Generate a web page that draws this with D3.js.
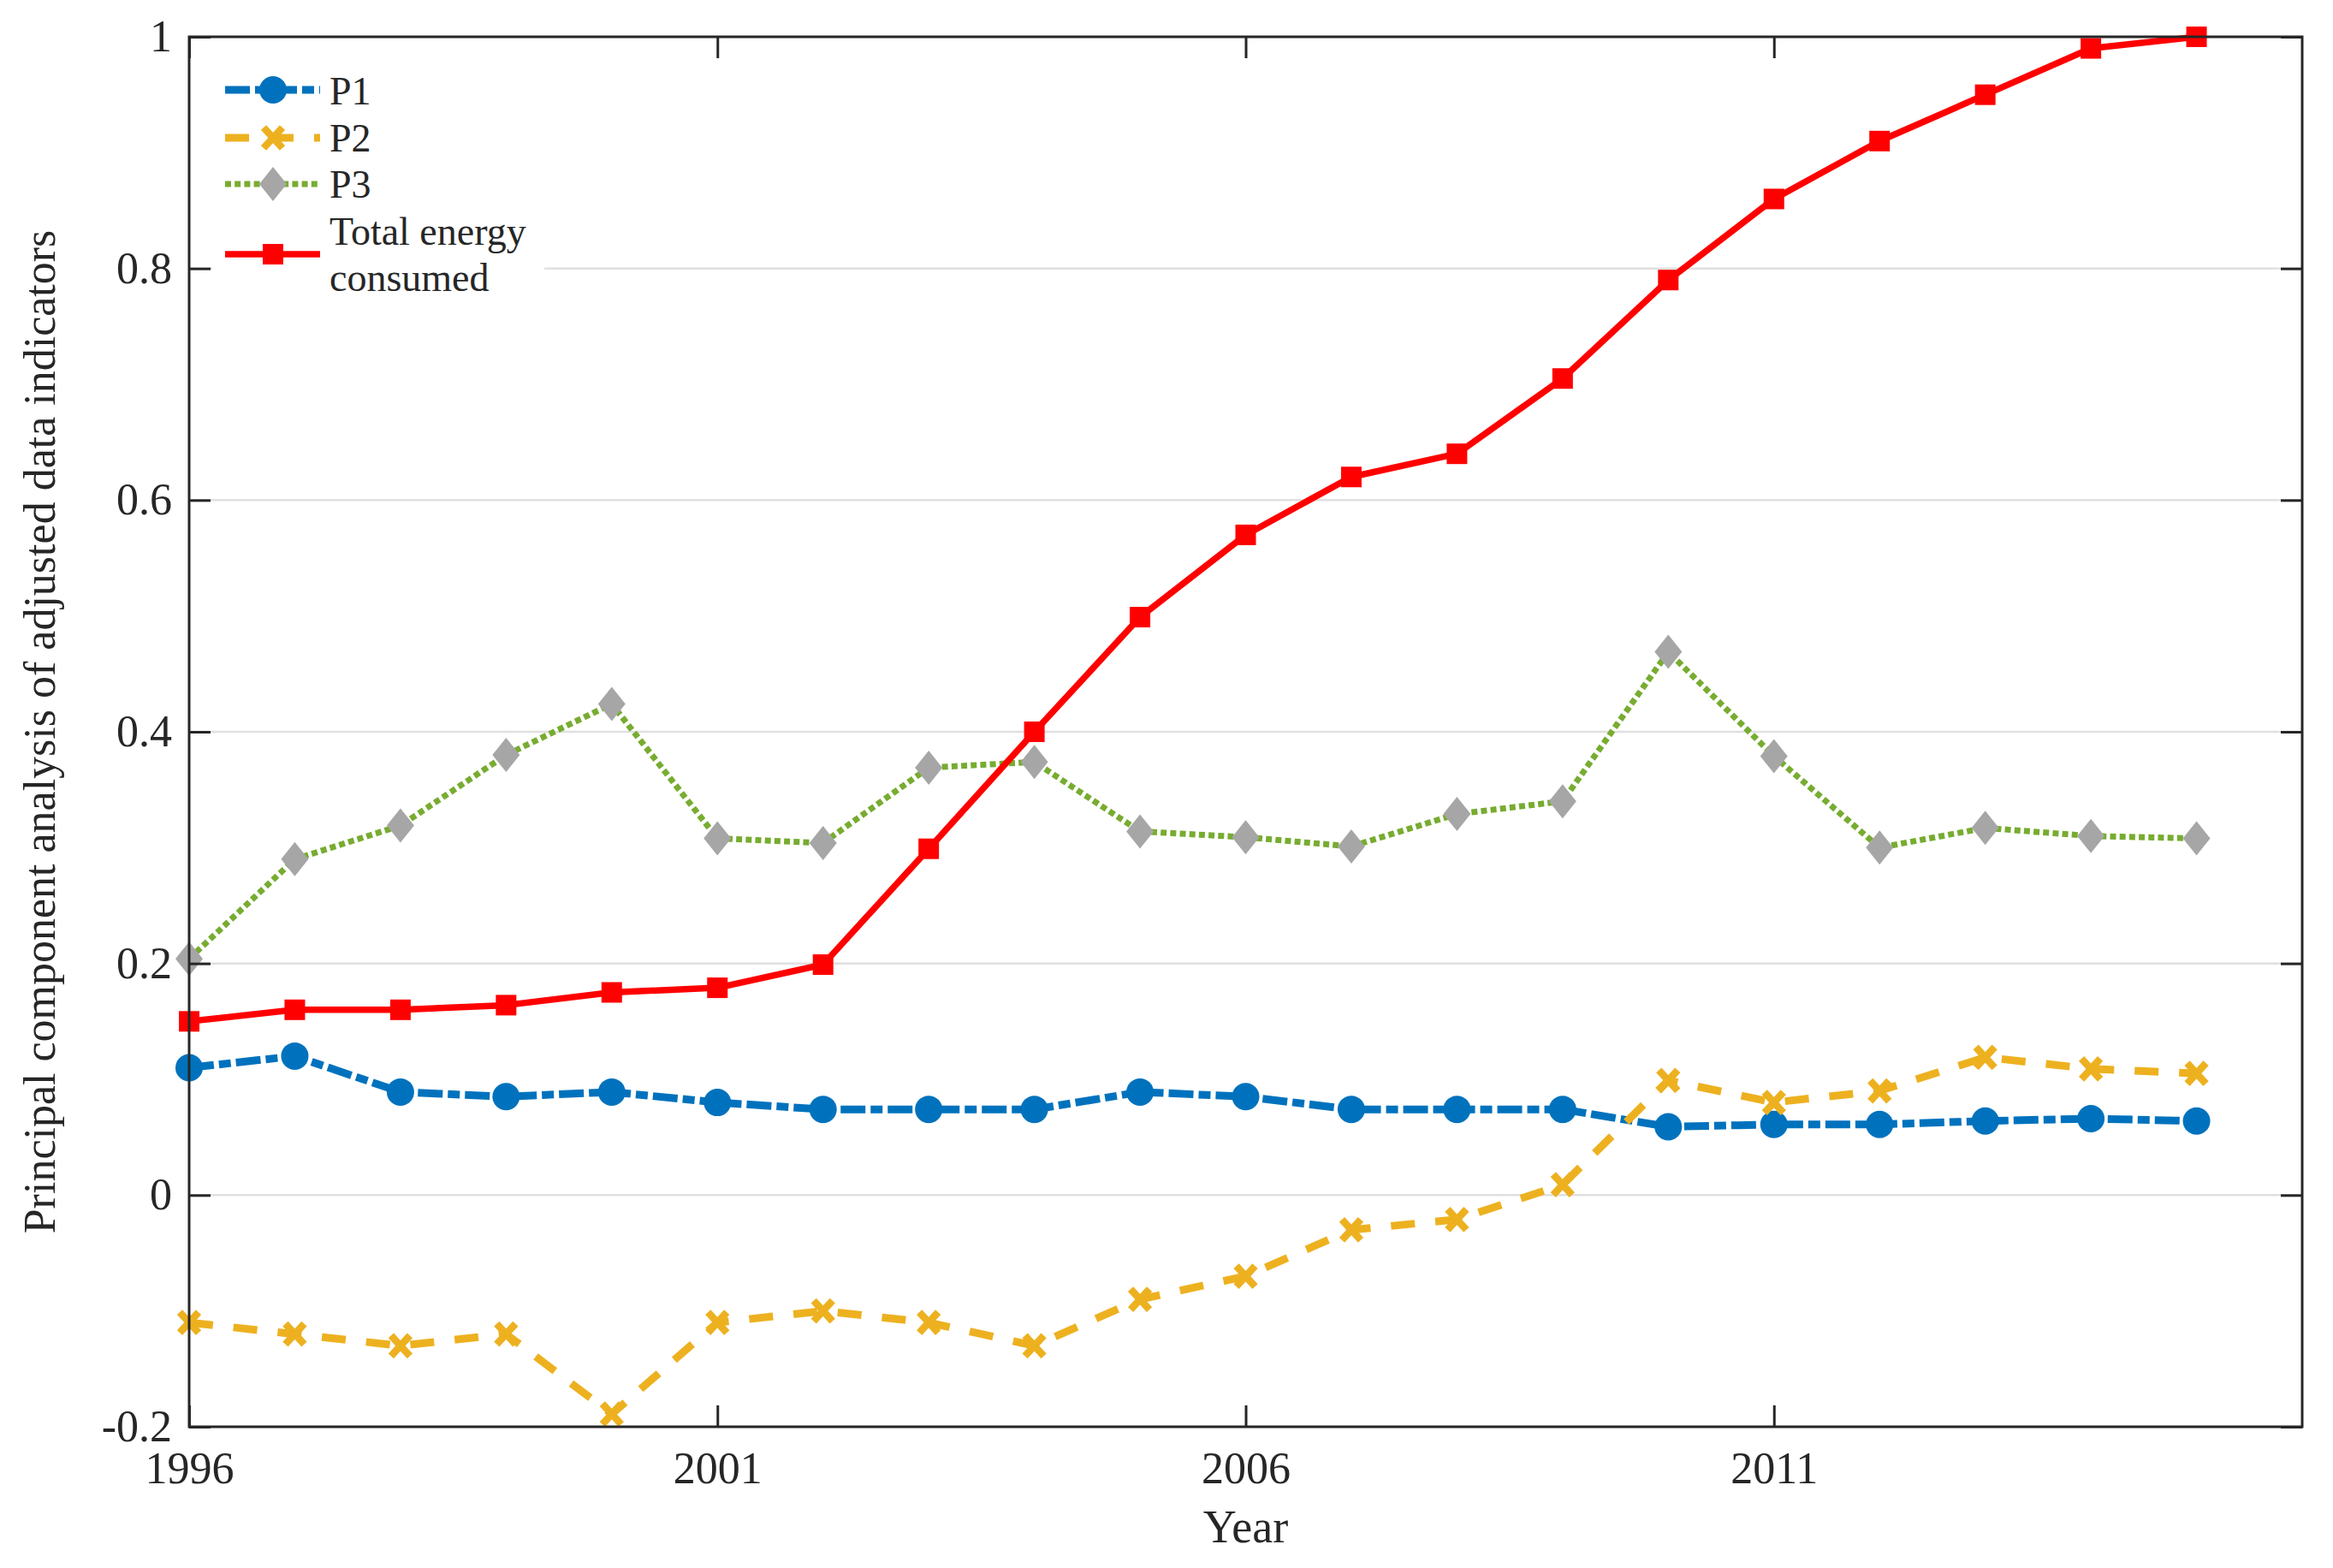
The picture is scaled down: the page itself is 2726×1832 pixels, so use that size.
<!DOCTYPE html>
<html>
<head>
<meta charset="utf-8">
<script src="https://cdn.jsdelivr.net/npm/d3@7"></script>
<style>
  body { margin: 0; background: #fff; }
  text { font-family: "Liberation Serif", "Times New Roman", serif; fill: #262626; }
</style>
</head>
<body>
<svg id="chart" width="2726" height="1832"></svg>
<script>
// values
var years = [1996, 1997, 1998, 1999, 2000, 2001, 2002, 2003, 2004, 2005,
             2006, 2007, 2008, 2009, 2010, 2011, 2012, 2013, 2014, 2015];
var p1 = [0.110, 0.120, 0.089, 0.085, 0.089, 0.080, 0.074, 0.074, 0.074, 0.089,
          0.085, 0.074, 0.074, 0.074, 0.059, 0.061, 0.061, 0.064, 0.066, 0.064];
var p2 = [-0.110, -0.120, -0.130, -0.120, -0.189, -0.110, -0.100, -0.110, -0.130, -0.090,
          -0.070, -0.030, -0.021, 0.009, 0.099, 0.080, 0.090, 0.119, 0.109, 0.105];
var p3 = [0.204, 0.290, 0.319, 0.380, 0.424, 0.308, 0.304, 0.369, 0.374, 0.314,
          0.309, 0.301, 0.329, 0.340, 0.469, 0.379, 0.300, 0.317, 0.310, 0.308];
var totalEnergy = [0.150, 0.160, 0.160, 0.164, 0.175, 0.179, 0.199, 0.299, 0.400, 0.499,
                   0.570, 0.620, 0.640, 0.705, 0.790, 0.860, 0.910, 0.950, 0.990, 1.000];
var xTicks = [1996, 2001, 2006, 2011];
var yTicks = [-0.2, 0, 0.2, 0.4, 0.6, 0.8, 1];
var legendNames = ["P1", "P2", "P3", ["Total energy", "consumed"]];

// plot box (note: "top" is taken by window.top, so use other names)
var boxL = 221, boxR = 2690, boxT = 43, boxB = 1667;
var svg = d3.select("#chart");

var x = d3.scaleLinear().domain([1996, 2016]).range([boxL, boxR]);
var y = d3.scaleLinear().domain([-0.2, 1]).range([boxB, boxT]);

function yFmt(d) { return d === 0 ? "0" : String(+d.toFixed(1)); }

// grid lines (horizontal only)
svg.append("g").selectAll("line")
  .data(yTicks)
  .enter().append("line")
  .attr("x1", boxL).attr("x2", boxR)
  .attr("y1", function (d) { return y(d); })
  .attr("y2", function (d) { return y(d); })
  .attr("stroke", "#e0e0e0")
  .attr("stroke-width", 2.5);

// series definitions
var series = [
  { vals: p1, color: "#0072BD", width: 9, dash: "29,6,14,6", marker: "circle" },
  { vals: p2, color: "#EDB120", width: 9, dash: "28,24", marker: "x" },
  { vals: p3, color: "#77AC30", width: 7, dash: "7,4.2", marker: "diamond", fill: "#A6A6A6" },
  { vals: totalEnergy, color: "#FF0000", width: 7.5, dash: null, marker: "square" }
];

function drawMarker(g, s, px, py) {
  if (s.marker === "circle") {
    g.append("circle").attr("cx", px).attr("cy", py).attr("r", 16).attr("fill", s.color);
  } else if (s.marker === "x") {
    g.append("path")
      .attr("d", "M-11,-12L11,12M-11,12L11,-12")
      .attr("transform", "translate(" + px + "," + py + ")")
      .attr("stroke", s.color).attr("stroke-width", 8.5).attr("fill", "none");
  } else if (s.marker === "diamond") {
    g.append("path")
      .attr("d", "M0,-20L16,0L0,20L-16,0Z")
      .attr("transform", "translate(" + px + "," + py + ")")
      .attr("fill", s.fill);
  } else {
    g.append("rect").attr("x", px - 12).attr("y", py - 12)
      .attr("width", 24).attr("height", 24).attr("fill", s.color);
  }
}

var line = d3.line()
  .x(function (d, i) { return x(years[i]); })
  .y(function (d) { return y(d); });

series.forEach(function (s) {
  var g = svg.append("g");
  g.append("path")
    .attr("d", line(s.vals))
    .attr("fill", "none")
    .attr("stroke", s.color)
    .attr("stroke-width", s.width)
    .attr("stroke-dasharray", s.dash)
    .attr("stroke-linejoin", "round");
  s.vals.forEach(function (v, i) { drawMarker(g, s, x(years[i]), y(v)); });
});

// axes, ticks pointing inward on all four sides
var xAxis = d3.axisBottom(x).tickValues(xTicks).tickFormat(d3.format("d"))
  .tickSizeInner(-25).tickSizeOuter(0).tickPadding(29);
var yAxis = d3.axisLeft(y).tickValues(yTicks).tickFormat(yFmt)
  .tickSizeInner(-25).tickSizeOuter(0).tickPadding(20);

var gx = svg.append("g").attr("transform", "translate(0," + boxB + ")").call(xAxis);
var gy = svg.append("g").attr("transform", "translate(" + boxL + ",0)").call(yAxis);
svg.append("g").attr("transform", "translate(0," + boxT + ")")
  .call(d3.axisTop(x).tickValues(xTicks).tickFormat("").tickSizeInner(-25).tickSizeOuter(0));
svg.append("g").attr("transform", "translate(" + boxR + ",0)")
  .call(d3.axisRight(y).tickValues(yTicks).tickFormat("").tickSizeInner(-25).tickSizeOuter(0));

svg.selectAll(".domain").remove();
svg.selectAll(".tick line").attr("stroke", "#262626").attr("stroke-width", 3);
gx.selectAll("text").attr("font-size", 52).attr("fill", "#262626")
  .attr("font-family", "Liberation Serif");
gy.selectAll("text").attr("font-size", 52).attr("fill", "#262626")
  .attr("font-family", "Liberation Serif");

// frame
svg.append("rect")
  .attr("x", boxL).attr("y", boxT)
  .attr("width", boxR - boxL).attr("height", boxB - boxT)
  .attr("fill", "none").attr("stroke", "#262626").attr("stroke-width", 3);

// axis labels
svg.append("text")
  .attr("x", (boxL + boxR) / 2).attr("y", 1802)
  .attr("text-anchor", "middle").attr("font-size", 54)
  .text("Year");
svg.append("text")
  .attr("transform", "translate(64," + ((boxT + boxB) / 2) + ") rotate(-90)")
  .attr("text-anchor", "middle").attr("font-size", 52)
  .text("Principal component analysis of adjusted data indicators");

// legend
var leg = svg.append("g");
leg.append("rect").attr("x", 248).attr("y", 64).attr("width", 388).attr("height", 296)
  .attr("fill", "#fff");
var legY = [105, 161, 215, 297];
var legTextY = [[122], [177], [231], [286, 340]];
series.forEach(function (s, i) {
  leg.append("line")
    .attr("x1", 263).attr("x2", 374)
    .attr("y1", legY[i]).attr("y2", legY[i])
    .attr("stroke", s.color).attr("stroke-width", s.width)
    .attr("stroke-dasharray", s.dash);
  drawMarker(leg, s, 319, legY[i]);
  var names = [].concat(legendNames[i]);
  names.forEach(function (n, j) {
    leg.append("text")
      .attr("x", 385).attr("y", legTextY[i][j])
      .attr("font-size", 46).attr("fill", "#000")
      .text(n);
  });
});
</script>
</body>
</html>
